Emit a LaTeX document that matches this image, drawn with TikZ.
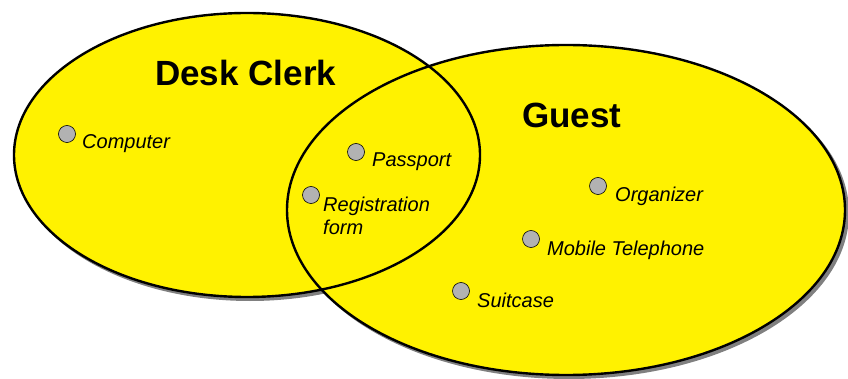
\documentclass[tikz,border=0pt]{standalone}
\usepackage{fontspec}
\setmainfont{Liberation Sans}
\begin{document}
\begin{tikzpicture}[x=1pt,y=-1pt,
  shadowfill/.style={fill=black!50},
  setfill/.style={fill=yellow},
  setline/.style={draw=black,line width=2.4pt},
  dot/.style={circle,draw=black,line width=0.6pt,fill=black!30,minimum size=17pt,inner sep=0pt},
  item/.style={font=\fontsize{20}{23}\selectfont\itshape,anchor=base west,inner sep=0pt,align=left},
  title/.style={font=\fontsize{35}{40}\selectfont\bfseries,anchor=base west,inner sep=0pt}]
\useasboundingbox (0,0) rectangle (848,379);
% shadows and fills
\fill[shadowfill] (250,158) ellipse [x radius=234pt,y radius=143pt];
\fill[setfill] (247,155) ellipse [x radius=233pt,y radius=142pt];
\fill[shadowfill] (569,213) ellipse [x radius=280pt,y radius=166pt];
\fill[setfill] (566,210) ellipse [x radius=279pt,y radius=165pt];
% outlines
\draw[setline] (247,155) ellipse [x radius=233pt,y radius=142pt];
\draw[setline] (566,210) ellipse [x radius=279pt,y radius=165pt];
% titles
\node[title] (clerk) at (155,86) {Desk Clerk};
\node[title] (guest) at (522,128) {Guest};
% items
\node[dot] (d1) at (67,134) {};
\node[item] (computer) at (82,149) {Computer};
\node[dot] (d2) at (356,152) {};
\node[item] (passport) at (372,167) {Passport};
\node[dot] (d3) at (311,195) {};
\node[item] (registration) at (323,235) {Registration\\form};
\node[dot] (d4) at (598,186) {};
\node[item] (organizer) at (615,202) {Organizer};
\node[dot] (d5) at (531,239) {};
\node[item] (mobile) at (547,255) {Mobile Telephone};
\node[dot] (d6) at (461,291) {};
\node[item] (suitcase) at (477,307) {Suitcase};
\end{tikzpicture}
\end{document}
